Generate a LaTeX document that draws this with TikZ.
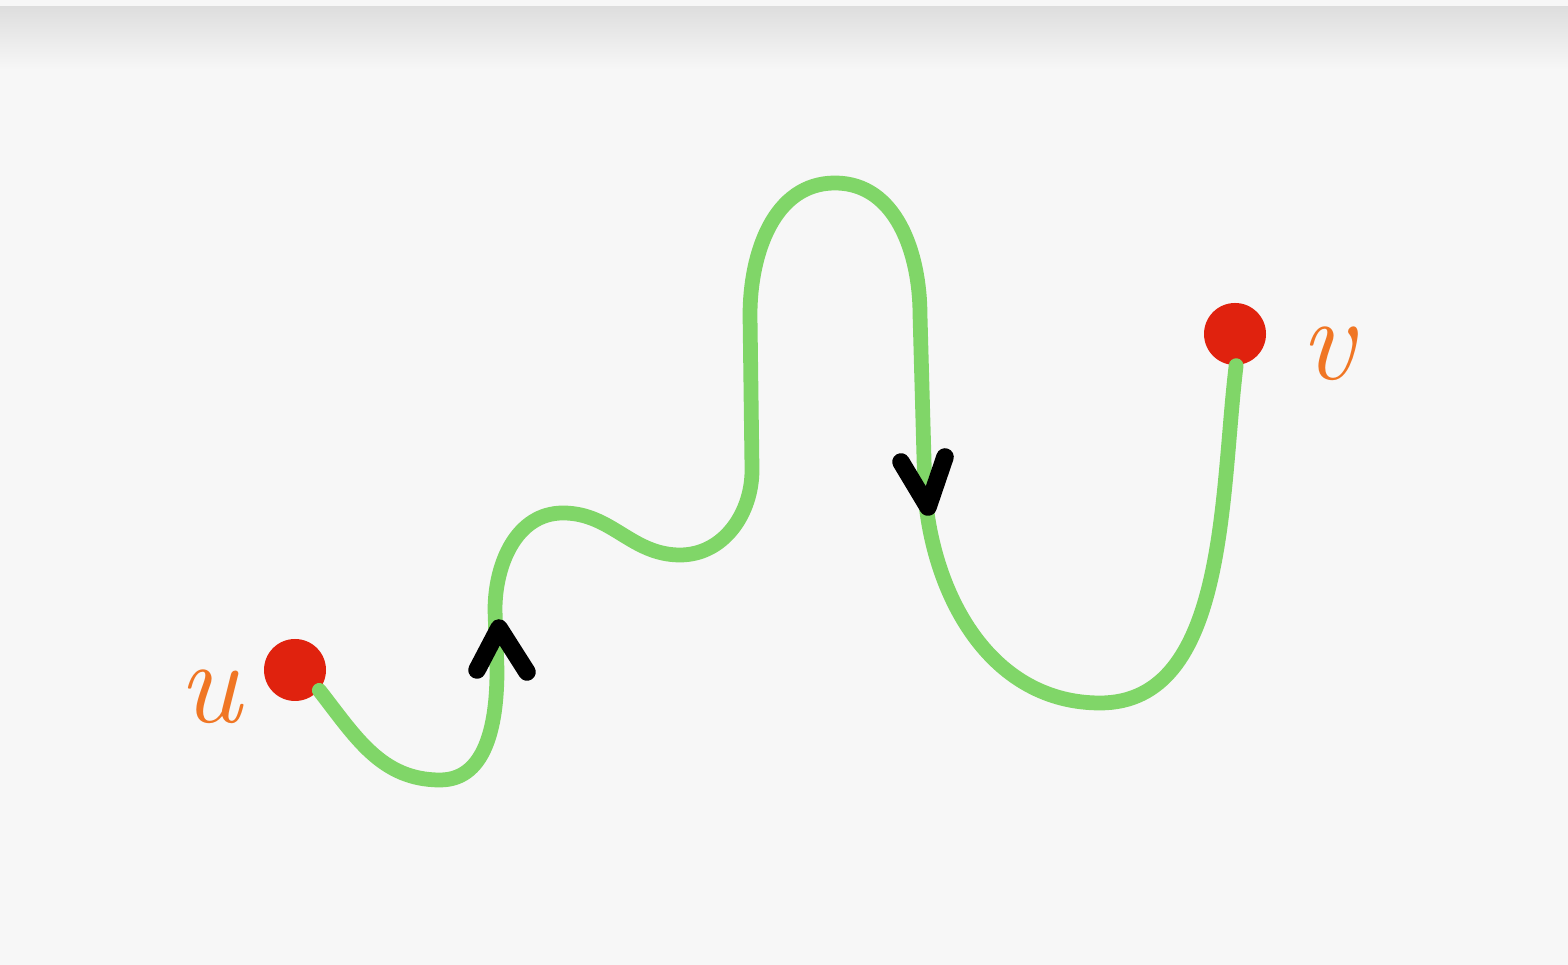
\documentclass[tikz,border=0pt]{standalone}
\usepackage{fontspec}
\usepackage{xcolor}
\usepackage{tikz}
\usetikzlibrary{positioning, arrows.meta}

\definecolor{dotred}{RGB}{224,34,14}
\definecolor{pathgreen}{RGB}{128,214,104}
\definecolor{markorange}{RGB}{240,118,36}
\definecolor{paper}{RGB}{247,247,247}

\begin{document}
\begin{tikzpicture}[
    dot/.style={circle, fill=dotred, inner sep=0pt, minimum size=0.62cm},
    lbl/.style={text=markorange, font=\itshape\fontsize{34}{34}\selectfont},
    trail/.style={draw=pathgreen, line width=4.2pt, line cap=round},
    tick/.style={draw=black, line width=5pt, line cap=round, line join=round}
]
% paper
\fill[paper] (0,0) rectangle (15.68,9.65);
\shade[top color=black!13, bottom color=paper] (0,9.58) rectangle (15.68,8.95);
\useasboundingbox (0,0) rectangle (15.68,9.65);

% end points
\node[dot] (u) at (2.95,2.95) {};
\node[dot] (v) at (12.35,6.31) {};
\node[lbl] (ulbl) at (2.10,2.68) {u};
\node[lbl] (vlbl) at (13.27,6.11) {v};

% the walk from u to v
\draw[trail] (u.-40) to[out=-52,in=180] (4.40,1.85)
    to[out=0,in=-90] (4.97,2.95)
    -- (4.95,3.55)
    to[out=90,in=180] (5.63,4.52)
    to[out=0,in=180] (6.80,4.10)
    to[out=0,in=-90] (7.52,4.95)
    -- (7.50,6.50)
    to[out=90,in=180] (8.35,7.82)
    to[out=0,in=90] (9.20,6.50)
    -- (9.25,4.70)
    to[out=-85,in=180] (11.00,2.62)
    to[out=0,in=-97,looseness=0.9] (v.-88);

% direction marks
\draw[tick] (4.77,2.95) -- (4.99,3.37) -- (5.27,2.93);
\draw[tick] (9.01,5.03) -- (9.28,4.58) -- (9.45,5.08);
\end{tikzpicture}
\end{document}
